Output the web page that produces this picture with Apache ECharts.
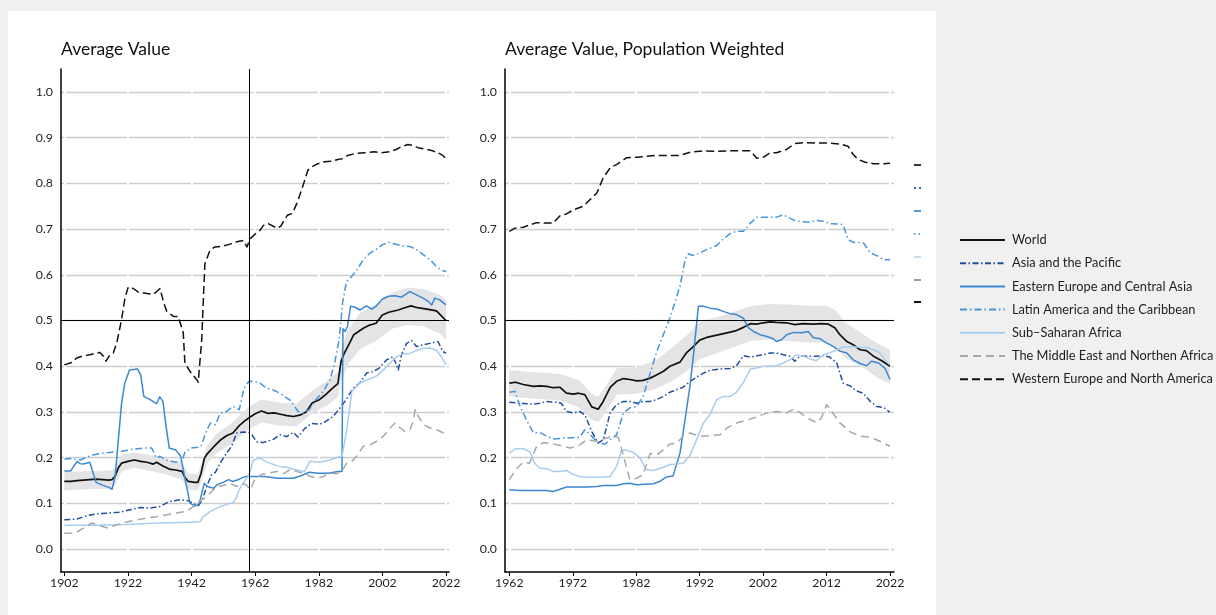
<!DOCTYPE html>
<html>
<head>
<meta charset="utf-8">
<script src="https://cdn.jsdelivr.net/npm/echarts@6/dist/echarts.min.js"></script>
<style>
  html, body { margin: 0; padding: 0; background: #f0f0f0; }
  #sheet { position: absolute; left: 8px; top: 11px; width: 928px; height: 604px; background: #ffffff; }
  #chart { position: absolute; left: 0; top: 0; width: 1216px; height: 615px; }
</style>
</head>
<body>
<div id="sheet"></div>
<div id="chart"></div>
<script>
// ---------- tick labels ----------
const yTicks = [0, 0.1, 0.2, 0.3, 0.4, 0.5, 0.6, 0.7, 0.8, 0.9, 1.0];
const yearTicksAll = [1902, 1922, 1942, 1962, 1982, 2002, 2022];
const yearTicksPop = [1962, 1972, 1982, 1992, 2002, 2012, 2022];

const seriesNames = [
  'World',
  'Asia and the Pacific',
  'Eastern Europe and Central Asia',
  'Latin America and the Caribbean',
  'Sub\u2013Saharan Africa',
  'The Middle East and Northen Africa',
  'Western Europe and North America'
];

// ---------- Average Value (1902-2022) ----------
const worldAvg = [[1902,0.148],[1904,0.148],[1906,0.150],[1908,0.151],[1910,0.152],[1912,0.153],[1914,0.152],[1916,0.151],[1917,0.152],[1918,0.160],[1919,0.178],[1920,0.188],[1922,0.192],[1924,0.195],[1926,0.192],[1928,0.190],[1930,0.186],[1931,0.190],[1933,0.182],[1935,0.175],[1937,0.173],[1939,0.170],[1940,0.156],[1941,0.148],[1943,0.146],[1944,0.146],[1945,0.166],[1946,0.198],[1947,0.209],[1949,0.224],[1951,0.238],[1953,0.248],[1955,0.254],[1957,0.270],[1959,0.282],[1960,0.287],[1962,0.296],[1964,0.302],[1966,0.297],[1968,0.298],[1970,0.295],[1972,0.292],[1974,0.290],[1976,0.293],[1978,0.300],[1980,0.320],[1982,0.326],[1984,0.337],[1986,0.350],[1988,0.362],[1989,0.410],[1990,0.428],[1992,0.455],[1993,0.469],[1996,0.483],[1998,0.490],[2000,0.494],[2002,0.512],[2004,0.518],[2007,0.523],[2009,0.528],[2011,0.532],[2013,0.528],[2016,0.525],[2019,0.521],[2020,0.514],[2022,0.500]];
const bandAvgYears = [1902,1910,1917,1918,1920,1924,1930,1934,1939,1941,1944,1945,1947,1950,1955,1960,1964,1970,1975,1980,1985,1988,1989,1991,1995,2000,2005,2010,2015,2020,2022];
const bandAvgLow  = [0.128,0.131,0.132,0.139,0.170,0.178,0.170,0.163,0.152,0.130,0.128,0.146,0.188,0.211,0.232,0.262,0.277,0.270,0.268,0.297,0.316,0.332,0.365,0.402,0.437,0.455,0.482,0.490,0.487,0.472,0.458];
const bandAvgHigh = [0.168,0.171,0.172,0.179,0.206,0.212,0.204,0.197,0.188,0.166,0.164,0.186,0.228,0.253,0.278,0.312,0.327,0.320,0.318,0.347,0.370,0.388,0.435,0.478,0.517,0.535,0.560,0.572,0.569,0.556,0.545];
const asiaAvg = [[1902,0.064],[1906,0.066],[1909,0.073],[1912,0.077],[1916,0.079],[1919.5,0.081],[1922.7,0.086],[1925.8,0.091],[1929,0.090],[1932,0.093],[1935,0.104],[1938.4,0.108],[1941,0.106],[1942.6,0.099],[1944.2,0.095],[1945.5,0.110],[1946.8,0.137],[1948.3,0.163],[1949.5,0.168],[1951,0.188],[1953,0.210],[1954.6,0.225],[1956.2,0.254],[1958.3,0.256],[1960,0.255],[1961,0.250],[1962.4,0.235],[1964.5,0.233],[1967.7,0.240],[1969.8,0.250],[1971.9,0.246],[1974,0.255],[1975.5,0.245],[1977.6,0.264],[1979.7,0.275],[1982.3,0.273],[1983.9,0.278],[1986.5,0.290],[1988.6,0.308],[1990.7,0.328],[1992.8,0.352],[1995,0.364],[1997,0.385],[1999,0.388],[2001,0.396],[2003.3,0.414],[2005.4,0.421],[2007,0.392],[2008,0.425],[2009.6,0.450],[2011.2,0.456],[2012.7,0.443],[2014.8,0.447],[2016.9,0.450],[2019.5,0.454],[2021,0.432],[2022,0.429]];
const eastAvg = [[1902,0.171],[1904,0.171],[1906,0.192],[1907,0.187],[1908,0.186],[1910,0.190],[1912,0.146],[1914,0.140],[1916,0.135],[1917,0.131],[1918,0.160],[1919,0.240],[1920,0.319],[1921,0.363],[1922.5,0.392],[1925,0.394],[1926,0.381],[1927,0.334],[1929,0.327],[1931,0.318],[1932,0.333],[1933,0.323],[1934,0.268],[1935,0.221],[1937,0.217],[1938.6,0.203],[1940,0.152],[1941.5,0.101],[1943,0.094],[1944.4,0.099],[1946,0.144],[1947,0.137],[1949,0.133],[1950,0.141],[1952,0.146],[1953.6,0.152],[1955,0.148],[1957,0.153],[1959,0.159],[1962,0.159],[1965,0.159],[1969,0.155],[1974,0.155],[1976.6,0.161],[1979,0.168],[1982,0.166],[1985,0.166],[1988,0.170],[1989.3,0.170],[1989.6,0.482],[1990.3,0.476],[1991,0.487],[1992,0.531],[1993.4,0.529],[1995,0.523],[1997,0.532],[1998.6,0.525],[2000,0.531],[2002,0.547],[2004,0.553],[2006,0.554],[2008,0.551],[2010.6,0.563],[2012.7,0.556],[2014.8,0.549],[2016.4,0.542],[2017.5,0.534],[2018.5,0.549],[2020,0.545],[2022,0.534]];
const latinAvg = [[1902,0.197],[1904,0.198],[1907,0.195],[1909,0.201],[1911,0.206],[1914,0.210],[1917,0.212],[1920,0.214],[1924,0.219],[1927,0.221],[1929.5,0.221],[1931,0.199],[1932,0.203],[1934,0.195],[1937,0.190],[1939,0.192],[1940,0.214],[1942,0.221],[1944,0.223],[1945,0.225],[1946.8,0.261],[1948,0.276],[1949.5,0.272],[1951,0.297],[1953,0.301],[1955,0.312],[1957,0.305],[1958.5,0.352],[1960,0.367],[1962,0.366],[1963.5,0.363],[1965.6,0.352],[1967.7,0.348],[1969.8,0.341],[1972,0.330],[1973,0.326],[1975.5,0.301],[1977,0.297],[1979,0.305],[1981,0.326],[1983.4,0.345],[1985.5,0.370],[1987,0.407],[1988.4,0.458],[1989.5,0.540],[1990.7,0.585],[1992.3,0.596],[1994,0.611],[1996,0.633],[1998,0.647],[2000,0.655],[2002,0.666],[2004,0.671],[2006.5,0.666],[2008.5,0.663],[2010.6,0.662],[2012.7,0.655],[2014.8,0.644],[2017,0.633],[2019,0.618],[2021,0.609],[2022,0.607]];
const subAvg = [[1902,0.052],[1911,0.052],[1921.6,0.054],[1932,0.057],[1941.5,0.059],[1944.6,0.060],[1945.7,0.071],[1947.8,0.082],[1951,0.093],[1953.6,0.099],[1955.2,0.102],[1956.2,0.115],[1957.2,0.133],[1958.8,0.150],[1960,0.160],[1961.4,0.195],[1963.5,0.199],[1965.3,0.192],[1967.4,0.186],[1969.5,0.181],[1971.6,0.179],[1975.8,0.172],[1977.5,0.170],[1979.2,0.192],[1982.3,0.190],[1985.5,0.195],[1988,0.201],[1989.3,0.203],[1990.8,0.261],[1992.4,0.345],[1995,0.364],[1998,0.372],[2000.2,0.379],[2002.3,0.392],[2004.4,0.407],[2006.5,0.421],[2008.5,0.427],[2010.6,0.428],[2012.7,0.434],[2014.8,0.439],[2016.9,0.440],[2019,0.435],[2020.6,0.420],[2022,0.403]];
const meAvg = [[1902,0.035],[1905.4,0.035],[1908,0.046],[1910.6,0.057],[1913.2,0.051],[1915.8,0.046],[1918.5,0.053],[1921.1,0.059],[1924.7,0.064],[1927.9,0.068],[1931,0.071],[1934.2,0.075],[1937.3,0.079],[1940,0.082],[1942,0.090],[1943.6,0.101],[1945.2,0.108],[1946.8,0.115],[1948.3,0.126],[1949.9,0.137],[1952,0.139],[1954.1,0.144],[1956.2,0.137],[1957.8,0.144],[1959.3,0.140],[1960.5,0.130],[1962,0.155],[1964,0.163],[1966,0.166],[1968.8,0.170],[1971,0.165],[1973,0.174],[1975,0.170],[1977.2,0.166],[1979,0.160],[1981.3,0.155],[1983.5,0.159],[1985.5,0.166],[1987.6,0.165],[1989.2,0.170],[1990.8,0.188],[1992.4,0.192],[1993.9,0.203],[1996,0.225],[1998.1,0.228],[2000.2,0.236],[2002.3,0.247],[2004.4,0.265],[2006,0.276],[2007.6,0.265],[2009.2,0.257],[2010.7,0.262],[2011.8,0.283],[2012.3,0.305],[2013.3,0.290],[2015,0.272],[2017,0.265],[2019.1,0.261],[2021.2,0.254],[2022,0.243]];
const westAvg = [[1902,0.403],[1904.3,0.408],[1905.9,0.418],[1908,0.423],[1910.1,0.425],[1912.2,0.429],[1913.2,0.430],[1914.3,0.422],[1915.1,0.411],[1916.4,0.425],[1917.4,0.429],[1918.5,0.451],[1920,0.502],[1921.1,0.550],[1922.1,0.573],[1923.7,0.570],[1925.3,0.562],[1928,0.559],[1930,0.557],[1932.1,0.570],[1933.2,0.540],[1934.2,0.520],[1936.3,0.509],[1937.8,0.509],[1939.4,0.473],[1939.9,0.407],[1941.5,0.389],[1943.6,0.371],[1944.1,0.365],[1945.2,0.458],[1945.8,0.560],[1946.2,0.624],[1947.8,0.654],[1949.4,0.661],[1951.5,0.662],[1954.1,0.667],[1956.2,0.672],[1958.3,0.675],[1959.4,0.661],[1960.5,0.679],[1962,0.689],[1963.5,0.697],[1964.6,0.708],[1966.1,0.712],[1968.8,0.702],[1970,0.706],[1972.1,0.730],[1973.7,0.734],[1975.3,0.759],[1976.9,0.792],[1978.6,0.829],[1980.1,0.837],[1981.7,0.843],[1983.8,0.847],[1985.9,0.848],[1988,0.852],[1989.6,0.854],[1991.1,0.861],[1993.3,0.865],[1996.4,0.867],[1999.5,0.869],[2001.6,0.867],[2004.2,0.869],[2006.3,0.874],[2007.9,0.880],[2010,0.885],[2011.6,0.883],[2013.2,0.878],[2015.3,0.875],[2017.4,0.872],[2019.4,0.867],[2021,0.861],[2022,0.854]];

// ---------- Average Value, Population Weighted (1962-2022) ----------
const worldPop = [[1962,0.363],[1963,0.365],[1964.2,0.360],[1965.8,0.356],[1966.8,0.357],[1967.9,0.356],[1968.9,0.353],[1970,0.354],[1971,0.341],[1972.1,0.339],[1972.9,0.341],[1973.9,0.338],[1975,0.311],[1976,0.306],[1976.8,0.323],[1977.9,0.354],[1978.9,0.367],[1980,0.373],[1981,0.371],[1982.1,0.368],[1983.1,0.369],[1984.2,0.374],[1985.2,0.381],[1986.3,0.389],[1987.3,0.400],[1988.9,0.409],[1989.9,0.429],[1991,0.443],[1992,0.457],[1993.1,0.463],[1994.7,0.468],[1996.3,0.473],[1997.8,0.478],[1998.9,0.485],[2000,0.493],[2001,0.492],[2002,0.495],[2003.1,0.497],[2004.1,0.496],[2005.7,0.495],[2007,0.491],[2008.3,0.493],[2009.9,0.492],[2011.2,0.493],[2012.3,0.492],[2013.3,0.484],[2014.1,0.469],[2015.2,0.454],[2016.2,0.447],[2017.3,0.436],[2018.3,0.434],[2019.4,0.422],[2020.7,0.412],[2022,0.400]];
const bandPopYears = [1962,1965,1970,1973,1975,1976,1977,1979,1982,1985,1988,1990,1992,1995,2000,2003,2006,2009,2012,2013.5,2015,2018,2020,2022];
const bandPopLow  = [0.334,0.330,0.325,0.310,0.283,0.278,0.295,0.338,0.340,0.350,0.370,0.390,0.415,0.430,0.455,0.458,0.455,0.452,0.452,0.440,0.418,0.395,0.375,0.362];
const bandPopHigh = [0.392,0.388,0.383,0.370,0.340,0.334,0.352,0.396,0.398,0.412,0.445,0.468,0.497,0.508,0.531,0.536,0.535,0.532,0.532,0.522,0.495,0.468,0.450,0.436];
const asiaPop = [[1962,0.321],[1963.7,0.319],[1965.8,0.317],[1966.8,0.319],[1967.9,0.323],[1969.5,0.321],[1970.2,0.319],[1971,0.301],[1972.1,0.298],[1973.1,0.301],[1973.9,0.294],[1975,0.257],[1976,0.232],[1976.8,0.239],[1977.9,0.298],[1978.9,0.316],[1980,0.323],[1981,0.323],[1982.1,0.319],[1983.1,0.323],[1984.2,0.323],[1985.2,0.327],[1986.3,0.334],[1987.3,0.343],[1988.4,0.349],[1989.4,0.354],[1990.5,0.367],[1991.5,0.376],[1992.6,0.385],[1993.6,0.391],[1995.2,0.394],[1996.8,0.395],[1997.8,0.401],[1998.9,0.423],[2000,0.420],[2001,0.423],[2002,0.425],[2003.1,0.429],[2004.1,0.429],[2005.2,0.425],[2006.2,0.422],[2007,0.411],[2007.8,0.422],[2008.9,0.422],[2010.4,0.422],[2011.5,0.423],[2012.5,0.420],[2013.6,0.407],[2014.6,0.363],[2015.7,0.357],[2016.7,0.346],[2017.8,0.341],[2018.9,0.323],[2019.9,0.312],[2021,0.310],[2022,0.299]];
const eastPop = [[1962,0.130],[1963.7,0.128],[1966.3,0.128],[1967.9,0.128],[1968.9,0.126],[1970,0.131],[1971,0.136],[1974.2,0.136],[1975.8,0.137],[1976.8,0.139],[1978.9,0.139],[1980,0.143],[1981,0.144],[1982.1,0.141],[1984.7,0.143],[1985.7,0.148],[1986.8,0.158],[1987.8,0.160],[1988.9,0.210],[1989.7,0.283],[1990.5,0.360],[1991,0.422],[1991.8,0.531],[1992.6,0.531],[1993.6,0.527],[1994.7,0.525],[1995.7,0.520],[1996.8,0.515],[1997.8,0.513],[1998.9,0.505],[1999.7,0.484],[2000.5,0.476],[2001.5,0.469],[2002.6,0.465],[2003.6,0.460],[2004.1,0.454],[2004.9,0.458],[2005.7,0.469],[2006.8,0.474],[2008.1,0.473],[2009.1,0.476],[2009.9,0.463],[2011,0.460],[2012,0.451],[2013.1,0.443],[2014.1,0.433],[2015.2,0.429],[2016.2,0.414],[2017.3,0.406],[2018.3,0.401],[2019.1,0.411],[2020.2,0.407],[2021.2,0.396],[2022,0.371]];
const latinPop = [[1962,0.343],[1962.9,0.345],[1963.7,0.312],[1964.7,0.283],[1965.8,0.254],[1966.8,0.255],[1967.9,0.247],[1968.9,0.241],[1971,0.243],[1973.1,0.245],[1973.9,0.261],[1974.8,0.250],[1976,0.232],[1977.1,0.230],[1977.9,0.239],[1978.9,0.250],[1980,0.298],[1981,0.309],[1982.1,0.312],[1983.1,0.334],[1984.2,0.385],[1985.2,0.430],[1986.3,0.470],[1987.3,0.505],[1988.4,0.553],[1988.9,0.575],[1989.4,0.611],[1989.7,0.633],[1990.2,0.646],[1991,0.642],[1992.1,0.648],[1993.1,0.655],[1994.7,0.664],[1995.7,0.678],[1996.8,0.690],[1997.8,0.695],[1998.9,0.695],[2000,0.713],[2001,0.726],[2003,0.726],[2004.1,0.726],[2005.2,0.731],[2006.2,0.724],[2007.3,0.717],[2009.4,0.715],[2010.4,0.719],[2011.5,0.717],[2012.5,0.712],[2014.6,0.710],[2015.4,0.677],[2016.2,0.671],[2017.8,0.670],[2018.9,0.648],[2019.9,0.642],[2021,0.633],[2022,0.633]];
const subPop = [[1962,0.210],[1962.9,0.219],[1964.2,0.220],[1965.3,0.212],[1966,0.188],[1966.8,0.177],[1967.9,0.176],[1968.9,0.170],[1970,0.170],[1971,0.172],[1972.1,0.163],[1973.1,0.159],[1974.2,0.157],[1975.8,0.157],[1976.8,0.158],[1977.9,0.159],[1978.9,0.181],[1979.7,0.217],[1980.5,0.216],[1981.5,0.212],[1982.6,0.199],[1983.6,0.174],[1984.7,0.172],[1986.3,0.179],[1987.3,0.185],[1988.4,0.186],[1989.4,0.188],[1990.5,0.206],[1991.5,0.239],[1992.6,0.276],[1993.6,0.294],[1994.7,0.327],[1995.7,0.334],[1996.8,0.334],[1997.8,0.343],[1998.9,0.365],[2000,0.394],[2001,0.396],[2002,0.400],[2004.1,0.401],[2005.2,0.407],[2006.2,0.414],[2007.3,0.425],[2008.3,0.422],[2009.4,0.416],[2010.4,0.412],[2011.5,0.425],[2012.5,0.429],[2013.6,0.436],[2014.6,0.442],[2016.2,0.443],[2017.3,0.441],[2018.3,0.441],[2019.4,0.436],[2020.4,0.429],[2021.2,0.414],[2022,0.403]];
const mePop = [[1962,0.152],[1963.2,0.177],[1964.2,0.190],[1965.2,0.188],[1966.3,0.225],[1967.4,0.233],[1968.9,0.230],[1970.5,0.225],[1971.6,0.221],[1973.1,0.228],[1974.2,0.239],[1975.8,0.236],[1976.8,0.241],[1978.4,0.247],[1979.2,0.244],[1980,0.203],[1981,0.152],[1982.1,0.155],[1983.1,0.163],[1984.2,0.209],[1985.2,0.206],[1986.3,0.217],[1987.3,0.230],[1988.4,0.232],[1989.4,0.247],[1990.5,0.254],[1992,0.247],[1993.6,0.248],[1995.2,0.250],[1996.3,0.265],[1997.8,0.276],[1999.4,0.282],[2001,0.289],[2002.6,0.298],[2004.1,0.301],[2005.7,0.298],[2006.8,0.306],[2007.8,0.299],[2008.9,0.287],[2010.4,0.277],[2011.2,0.287],[2012,0.316],[2012.8,0.301],[2014.1,0.276],[2015.7,0.257],[2017.3,0.247],[2018.9,0.245],[2020.4,0.236],[2022,0.225]];
const westPop = [[1962,0.695],[1962.9,0.702],[1964.2,0.704],[1966.3,0.714],[1967.9,0.713],[1968.9,0.713],[1970,0.729],[1971,0.733],[1972.1,0.742],[1973.7,0.750],[1974.7,0.764],[1975.8,0.779],[1976.8,0.812],[1977.9,0.834],[1978.9,0.841],[1980.5,0.856],[1982.1,0.857],[1983.7,0.859],[1985.2,0.861],[1987.3,0.861],[1988.9,0.861],[1990.5,0.868],[1992.6,0.871],[1994.7,0.870],[1996.8,0.871],[1998.9,0.871],[2000,0.871],[2001,0.855],[2002,0.857],[2003.1,0.867],[2004.1,0.867],[2005.7,0.874],[2007,0.887],[2008.3,0.889],[2010.4,0.888],[2012.5,0.888],[2014.1,0.886],[2015.4,0.881],[2016.2,0.863],[2017,0.852],[2018.1,0.846],[2019.4,0.843],[2021,0.843],[2022,0.844]];

// ---------- styling ----------
const FONT = 'Lato, "Open Sans", sans-serif';
const TEXT = '#1e1e1e';
const GRID_GRAY = '#cdcdcd';
const BAND = '#e4e4e6';
const lineLook = [
  { color: '#111111', width: 1.7, type: 'solid' },
  { color: '#1f4f9e', width: 1.5, type: [6, 2.5, 1.5, 2.5] },
  { color: '#3b88d0', width: 1.5, type: 'solid' },
  { color: '#4794dc', width: 1.5, type: [7, 3, 1.5, 3] },
  { color: '#a9cdee', width: 1.5, type: 'solid' },
  { color: '#a8a8a8', width: 1.5, type: [8, 5] },
  { color: '#111111', width: 1.5, type: [8, 4] }
];
const avgSets = [worldAvg, asiaAvg, eastAvg, latinAvg, subAvg, meAvg, westAvg];
const popSets = [worldPop, asiaPop, eastPop, latinPop, subPop, mePop, westPop];

// shaded interval around the World line, drawn as one polygon in data coordinates
function bandSeries(idx, years, low, high) {
  return {
    type: 'custom', xAxisIndex: idx, yAxisIndex: idx, z: 2, silent: true,
    data: [[years[0], low[0]]],
    renderItem: function (params, api) {
      const pts = [];
      for (let i = 0; i < years.length; i++) pts.push(api.coord([years[i], high[i]]));
      for (let i = years.length - 1; i >= 0; i--) pts.push(api.coord([years[i], low[i]]));
      return { type: 'polygon', shape: { points: pts }, style: { fill: BAND } };
    }
  };
}

function lineSeries(idx, k, data) {
  const lk = lineLook[k];
  const s = {
    name: seriesNames[k], type: 'line', xAxisIndex: idx, yAxisIndex: idx, z: 3,
    data: data, symbol: 'none', showSymbol: false, silent: true,
    lineStyle: { color: lk.color, width: lk.width, type: lk.type, join: 'round', cap: 'butt' },
    itemStyle: { color: lk.color },
    emphasis: { disabled: true }
  };
  if (k === 0) {
    const marks = [{ yAxis: 0.5, lineStyle: { color: '#000', width: 1.2, type: 'solid' } }];
    if (idx === 0) marks.push({ xAxis: 1960, lineStyle: { color: '#000', width: 1, type: 'solid' } });
    s.markLine = { silent: true, symbol: ['none', 'none'], label: { show: false }, animation: false, data: marks };
  }
  return s;
}

function yAxisCfg(idx) {
  return {
    type: 'value', gridIndex: idx, min: -0.05, max: 1.05, z: 0,
    axisLine: { show: true, lineStyle: { color: '#000', width: 1.5 } },
    axisTick: { show: false, customValues: yTicks },
    axisLabel: { customValues: yTicks, formatter: v => v.toFixed(1), margin: 8,
                 color: TEXT, fontFamily: FONT, fontSize: 12.3 },
    splitLine: { show: true, lineStyle: { color: GRID_GRAY, width: 1.3 } }
  };
}
function xAxisCfg(idx, min, max, ticks) {
  return {
    type: 'value', gridIndex: idx, min: min, max: max, z: 1,
    axisLine: { show: true, onZero: false, lineStyle: { color: '#000', width: 1.5 } },
    axisTick: { show: true, customValues: ticks, length: 4, lineStyle: { color: '#000', width: 1 } },
    axisLabel: { customValues: ticks, margin: 5, color: TEXT, fontFamily: FONT, fontSize: 12.3,
                 formatter: v => String(v) },
    splitLine: { show: true, lineStyle: { color: '#ffffff', width: 2 } }
  };
}

const series = [
  bandSeries(0, bandAvgYears, bandAvgLow, bandAvgHigh),
  bandSeries(1, bandPopYears, bandPopLow, bandPopHigh)
]
  .concat(avgSets.map((d, k) => lineSeries(0, k, d)))
  .concat(popSets.map((d, k) => lineSeries(1, k, d)));

// short key strokes beside the right panel
const keyRows = [165, 188, 211, 234, 257, 280, 302];
const keyColors = ['#333333', '#3d62aa', '#5b9bd5', '#6aa8e0', '#c6ddf2', '#9d9d9d', '#111111'];
const keyDash = [null, [2, 3], null, [1.5, 3], null, null, null];
const keyGraphics = keyRows.map((y, i) => ({
  type: 'line', silent: true,
  shape: { x1: 914, y1: y, x2: 921, y2: y },
  style: { stroke: keyColors[i], lineWidth: 2, lineDash: keyDash[i] || null }
}));

const titleStyle = { fontFamily: FONT, fontSize: 17.5, fontWeight: 'normal', color: '#111' };

const option = {
  animation: false,
  backgroundColor: 'transparent',
  textStyle: { fontFamily: FONT },
  title: [
    { text: 'Average Value', left: 61, top: 40, padding: 0, textStyle: titleStyle },
    { text: 'Average Value, Population Weighted', left: 505, top: 40, padding: 0, textStyle: titleStyle }
  ],
  grid: [
    { left: 61, top: 69, width: 388, height: 503 },
    { left: 505, top: 69, width: 389, height: 503 }
  ],
  xAxis: [
    xAxisCfg(0, 1900.96, 2022.94, yearTicksAll),
    xAxisCfg(1, 1961.32, 2022.63, yearTicksPop)
  ],
  yAxis: [yAxisCfg(0), yAxisCfg(1)],
  legend: {
    data: seriesNames, orient: 'vertical', left: 954, top: 228,
    itemWidth: 45, itemHeight: 14, itemGap: 9.2, selectedMode: false,
    itemStyle: { color: 'rgba(0,0,0,0)', borderWidth: 0, opacity: 0 },
    textStyle: { fontFamily: FONT, fontSize: 12.8, color: TEXT, padding: [0, 0, 0, 2], lineHeight: 14 }
  },
  graphic: keyGraphics,
  series: series
};

const chart = echarts.init(document.getElementById('chart'), null, { renderer: 'canvas' });
chart.setOption(option);
</script>
</body>
</html>
